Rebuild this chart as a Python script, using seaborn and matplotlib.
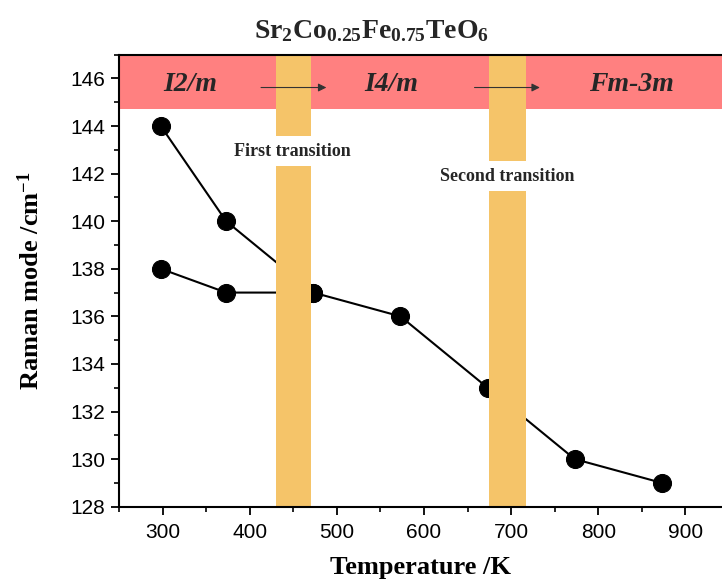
import matplotlib
matplotlib.use("Agg")
import matplotlib.pyplot as plt
import seaborn as sns
import pandas as pd
from matplotlib.ticker import MultipleLocator

# ---- data ----
temp_upper = [298, 373, 473]
raman_upper = [144, 140, 137]
temp_lower = [298, 373, 473, 573, 673, 773, 873]
raman_lower = [138, 137, 137, 136, 133, 130, 129]
transitions = [(430, 470), (675, 717)]
transition_labels = ["First transition", "Second transition"]
phase_labels = ["I2/m", "I4/m", "Fm-3m"]
title = r"$\mathbf{Sr_2Co_{0.25}Fe_{0.75}TeO_6}$"

sns.set_theme(style="ticks")
plt.rcParams["font.family"] = ["Liberation Sans", "DejaVu Sans"]
plt.rcParams["mathtext.fontset"] = "custom"
plt.rcParams["mathtext.rm"] = "Liberation Serif:bold"
plt.rcParams["mathtext.bf"] = "Liberation Serif:bold"
plt.rcParams["mathtext.it"] = "Liberation Serif:bold:italic"

df = pd.concat([
    pd.DataFrame({"T": temp_upper, "R": raman_upper, "s": "upper"}),
    pd.DataFrame({"T": temp_lower, "R": raman_lower, "s": "lower"}),
])

fig = plt.figure(figsize=(7.22, 5.88), dpi=100)
ax = fig.add_axes([0.1648, 0.1383, 0.8352, 0.7687])

ax.axhspan(144.7, 147, color="#ff8080", zorder=1, lw=0)

sns.lineplot(data=df, x="T", y="R", units="s", estimator=None, color="black",
             marker="o", markersize=13, markeredgecolor="black", lw=1.5,
             sort=False, ax=ax, zorder=2, legend=False)

for (a, b) in transitions:
    ax.axvspan(a, b, color="#f5c469", zorder=3, lw=0)

ax.text(449, 142.95, transition_labels[0], ha="center", va="center",
        fontsize=13, fontweight="bold", family="Liberation Serif", zorder=4,
        bbox=dict(facecolor="white", edgecolor="none", pad=5))
ax.text(695, 141.9, transition_labels[1], ha="center", va="center",
        fontsize=13, fontweight="bold", family="Liberation Serif", zorder=4,
        bbox=dict(facecolor="white", edgecolor="none", pad=5))

for x, lab in zip([332, 563, 838], phase_labels):
    ax.text(x, 145.75, lab, ha="center", va="center", fontsize=20,
            fontweight="bold", fontstyle="italic", family="Liberation Serif",
            zorder=5)

for (x0, x1) in [(413, 488), (658, 733)]:
    ax.annotate("", xy=(x1, 145.62), xytext=(x0, 145.62), zorder=5,
                arrowprops=dict(arrowstyle="-|>", lw=0.8, color="#333333",
                                mutation_scale=12, shrinkA=0, shrinkB=0))

ax.set_xlim(250, 942)
ax.set_ylim(128, 147)
ax.xaxis.set_major_locator(MultipleLocator(100))
ax.xaxis.set_minor_locator(MultipleLocator(50))
ax.yaxis.set_major_locator(MultipleLocator(2))
ax.yaxis.set_minor_locator(MultipleLocator(1))
ax.tick_params(which="major", direction="out", length=6, width=1.3,
               labelsize=15, color="black", labelcolor="black", pad=4)
ax.tick_params(which="minor", direction="out", length=3.5, width=1.2, color="black")
ax.tick_params(axis="x", pad=6)

for sp in ["left", "bottom", "top"]:
    ax.spines[sp].set_color("black")
    ax.spines[sp].set_linewidth(1.5)
    ax.spines[sp].set_zorder(6)
ax.spines["right"].set_visible(False)

ax.set_xlabel("Temperature /K", fontsize=19, fontweight="bold",
              family="Liberation Serif", color="black")
ax.set_ylabel(r"Raman mode /cm$^{\mathbf{-1}}$", fontsize=19, fontweight="bold",
              family="Liberation Serif", color="black")
ax.xaxis.set_label_coords(0.5, -0.11)
ax.yaxis.set_label_coords(-0.125, 0.5)

fig.text(0.514, 0.947, title, ha="center", va="center", fontsize=20)

fig.savefig("out.png", dpi=100)
